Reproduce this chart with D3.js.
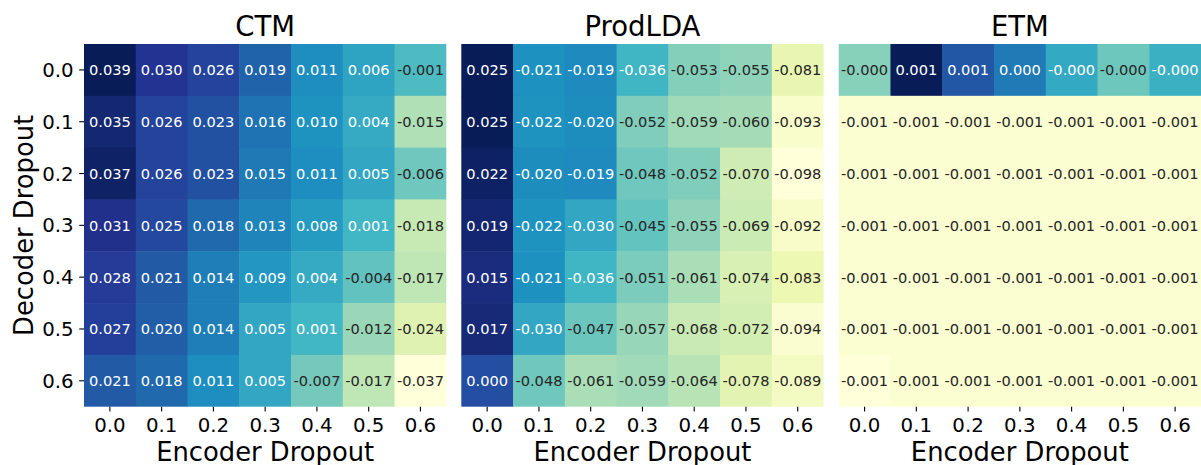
<!DOCTYPE html>
<html>
<head>
<meta charset="utf-8">
<script src="https://cdn.jsdelivr.net/npm/d3@7"></script>
<style>
  html, body { margin: 0; padding: 0; background: #fff; }
  svg { display: block; font-family: "DejaVu Sans", sans-serif; }
</style>
</head>
<body>
<svg id="chart" width="1201" height="465"></svg>
<script>
// ---- data ----
const encoderDropout = ["0.0", "0.1", "0.2", "0.3", "0.4", "0.5", "0.6"];
const decoderDropout = ["0.0", "0.1", "0.2", "0.3", "0.4", "0.5", "0.6"];
const modelNames = ["CTM", "ProdLDA", "ETM"];

const ctmValues = [
  [0.039, 0.030, 0.026, 0.019, 0.011, 0.006, -0.001],
  [0.035, 0.026, 0.023, 0.016, 0.010, 0.004, -0.015],
  [0.037, 0.026, 0.023, 0.015, 0.011, 0.005, -0.006],
  [0.031, 0.025, 0.018, 0.013, 0.008, 0.001, -0.018],
  [0.028, 0.021, 0.014, 0.009, 0.004, -0.004, -0.017],
  [0.027, 0.020, 0.014, 0.005, 0.001, -0.012, -0.024],
  [0.021, 0.018, 0.011, 0.005, -0.007, -0.017, -0.037]
];
const prodldaValues = [
  [0.025, -0.021, -0.019, -0.036, -0.053, -0.055, -0.081],
  [0.025, -0.022, -0.020, -0.052, -0.059, -0.060, -0.093],
  [0.022, -0.020, -0.019, -0.048, -0.052, -0.070, -0.098],
  [0.019, -0.022, -0.030, -0.045, -0.055, -0.069, -0.092],
  [0.015, -0.021, -0.036, -0.051, -0.061, -0.074, -0.083],
  [0.017, -0.030, -0.047, -0.057, -0.068, -0.072, -0.094],
  [0.000, -0.048, -0.061, -0.059, -0.064, -0.078, -0.089]
];
// ETM: finer values (labels round them)
const etmValues = [
  [-0.00045, 0.00105, 0.00051, 0.00030, -0.00002, -0.00034, -0.00008],
  [-0.00124, -0.00124, -0.00124, -0.00124, -0.00124, -0.00124, -0.00124],
  [-0.00124, -0.00124, -0.00124, -0.00124, -0.00124, -0.00124, -0.00124],
  [-0.00124, -0.00124, -0.00124, -0.00124, -0.00124, -0.00124, -0.00124],
  [-0.00124, -0.00124, -0.00124, -0.00124, -0.00124, -0.00124, -0.00124],
  [-0.00124, -0.00124, -0.00124, -0.00124, -0.00124, -0.00124, -0.00124],
  [-0.00130, -0.00124, -0.00124, -0.00124, -0.00124, -0.00124, -0.00124]
];
const allValues = [ctmValues, prodldaValues, etmValues];

// YlGnBu (matplotlib linear segmented)
const ylgnbu = ["#ffffd9", "#edf8b1", "#c7e9b4", "#7fcdbb", "#41b6c4",
                "#1d91c0", "#225ea8", "#253494", "#081d58"];

// ---- layout ----
const svg = d3.select("#chart");
const panelX = [84, 461.3, 838.7];
const panelW = 362.3;
const plotTop = 44, plotBottom = 406.7;

function lin(c) { c /= 255; return c <= 0.03928 ? c / 12.92 : Math.pow((c + 0.055) / 1.055, 2.4); }
function lum(col) { const c = d3.rgb(col); return 0.2126 * lin(c.r) + 0.7152 * lin(c.g) + 0.0722 * lin(c.b); }
function fmt(v) { return (v < 0 ? "-" : "") + Math.abs(v).toFixed(3); }

modelNames.forEach((name, p) => {
  const vals = allValues[p];
  const flat = vals.flat();
  const vmin = d3.min(flat), vmax = d3.max(flat);
  const t = d3.scaleLinear().domain([vmin, vmax]).range([0, 1]);
  const color = d3.scaleLinear()
    .domain(d3.range(9).map(i => i / 8))
    .range(ylgnbu)
    .interpolate(d3.interpolateRgb)
    .clamp(true);

  const x = d3.scaleBand().domain(encoderDropout).range([panelX[p], panelX[p] + panelW]);
  const y = d3.scaleBand().domain(decoderDropout).range([plotTop, plotBottom]);

  const g = svg.append("g");
  const cells = [];
  vals.forEach((row, i) => row.forEach((v, j) => cells.push({ i, j, v })));

  g.selectAll("rect").data(cells).join("rect")
    .attr("x", d => x(encoderDropout[d.j]))
    .attr("y", d => y(decoderDropout[d.i]))
    .attr("width", d => x.bandwidth() + (d.j < 6 ? 0.5 : 0))
    .attr("height", d => y.bandwidth() + (d.i < 6 ? 0.5 : 0))
    .attr("fill", d => color(t(d.v)));

  g.selectAll("text.annot").data(cells).join("text")
    .attr("class", "annot")
    .attr("x", d => x(encoderDropout[d.j]) + x.bandwidth() / 2)
    .attr("y", d => y(decoderDropout[d.i]) + y.bandwidth() / 2)
    .attr("text-anchor", "middle")
    .attr("dominant-baseline", "central")
    .attr("font-size", "14.6px")
    .attr("fill", d => lum(color(t(d.v))) > 0.408 ? "#262626" : "#ffffff")
    .text(d => fmt(d.v));

  // x axis
  const xAxis = d3.axisBottom(x).tickSize(4.8).tickPadding(4.5);
  const xa = svg.append("g").attr("transform", `translate(0,${plotBottom})`).call(xAxis);
  xa.select(".domain").remove();
  xa.selectAll(".tick line").attr("stroke", "#000").attr("stroke-width", 1.1);
  xa.selectAll(".tick text").attr("font-size", "19.8px").attr("fill", "#000")
    .attr("font-family", "DejaVu Sans, sans-serif").attr("dy", "0.8em");

  svg.append("text")
    .attr("x", panelX[p] + panelW / 2).attr("y", 460.5)
    .attr("text-anchor", "middle").attr("font-size", "25.8px").attr("fill", "#000")
    .text("Encoder Dropout");

  svg.append("text")
    .attr("x", panelX[p] + panelW / 2).attr("y", 35.5)
    .attr("text-anchor", "middle").attr("font-size", "27.5px").attr("fill", "#000")
    .text(name);

  if (p === 0) {
    const yAxis = d3.axisLeft(y).tickSize(4.8).tickPadding(5.5);
    const ya = svg.append("g").attr("transform", `translate(${panelX[0]},0)`).call(yAxis);
    ya.select(".domain").remove();
    ya.selectAll(".tick line").attr("stroke", "#000").attr("stroke-width", 1.1);
    ya.selectAll(".tick text").attr("font-size", "19.8px").attr("fill", "#000")
      .attr("font-family", "DejaVu Sans, sans-serif").attr("dy", "0.36em");

    svg.append("text")
      .attr("transform", `translate(33,${(plotTop + plotBottom) / 2}) rotate(-90)`)
      .attr("text-anchor", "middle").attr("font-size", "25.8px").attr("fill", "#000")
      .text("Decoder Dropout");
  }
});
</script>
</body>
</html>
